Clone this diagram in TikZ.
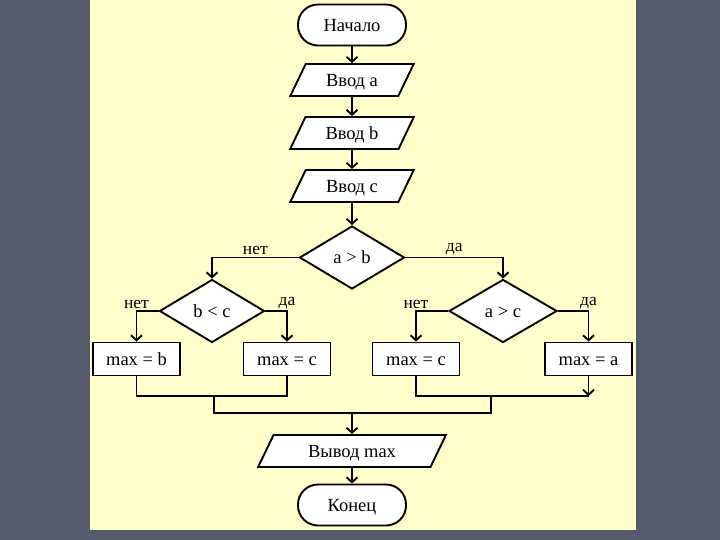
\documentclass[tikz,border=0pt]{standalone}
\usepackage{fontspec}
\setmainfont{Liberation Serif}
\usetikzlibrary{shapes.geometric,arrows.meta}
\definecolor{bgdark}{HTML}{555A6B}
\definecolor{panel}{HTML}{FFFFCC}
\begin{document}
\begin{tikzpicture}[x=1pt,y=-1pt,
  base/.style={draw=black, line width=1.9pt, fill=white, font=\fontsize{18.5}{22}\selectfont, inner sep=0pt, text height=15.5pt, text depth=3pt},
  term/.style={base, rectangle, rounded corners=20pt, minimum width=108pt, minimum height=41pt},
  io/.style={base, trapezium, trapezium stretches=true, trapezium left angle=65, trapezium right angle=115, minimum height=32pt},
  proc/.style={base, rectangle, minimum width=87pt, minimum height=33pt},
  dec/.style={base, diamond, minimum height=63pt},
  conn/.style={line width=1.9pt, draw=black},
  arr/.style={conn, -{Straight Barb[length=5pt,width=11pt,line width=1.9pt]}},
  lab/.style={font=\fontsize{17.5}{20}\selectfont, inner sep=1.5pt, anchor=south}
]
\useasboundingbox (0,0) rectangle (720,540);
\fill[bgdark] (0,0) rectangle (720,540);
\fill[panel] (90,0) rectangle (636,530);

\node[term] (start) at (352,25) {Начало};
\node[io, minimum width=124pt] (inA) at (352,80) {Ввод a};
\node[io, minimum width=124pt] (inB) at (352,133) {Ввод b};
\node[io, minimum width=124pt] (inC) at (352,186) {Ввод c};
\node[dec, minimum width=105pt] (d1) at (352,257.5) {a > b};
\node[dec, minimum width=105pt] (d2) at (212,311) {b < c};
\node[dec, minimum width=108pt] (d3) at (503,311) {a > c};
\node[proc] (p1) at (136.5,359) {max = b};
\node[proc] (p2) at (287,359) {max = c};
\node[proc] (p3) at (416,359) {max = c};
\node[proc] (p4) at (588.5,359) {max = a};
\node[io, minimum width=188pt] (out) at (352,451) {Вывод max};
\node[term] (end) at (352,505) {Конец};

\coordinate (m1) at (214,396);
\coordinate (m2) at (491,396);
\coordinate (m1b) at (214,413);
\coordinate (m2b) at (491,413);
\coordinate (mc) at (352,413);

\draw[arr] (start) -- (inA);
\draw[arr] (inA) -- (inB);
\draw[arr] (inB) -- (inC);
\draw[arr] (inC) -- (d1);
\draw[arr] (d1.west) -| node[lab, pos=0.25] (l1) {нет} (d2.north);
\draw[arr] (d1.east) -| node[lab, pos=0.25] (l2) {да} (d3.north);
\draw[arr] (d2.west) -| node[lab, pos=0.5] (l3) {нет} (p1.north);
\draw[arr] (d2.east) -| node[lab, pos=0.5] (l4) {да} (p2.north);
\draw[arr] (d3.west) -| node[lab, pos=0.5] (l5) {нет} (p3.north);
\draw[arr] (d3.east) -| node[lab, pos=0.5] (l6) {да} (p4.north);

\draw[conn] (p1.south) -- (p1.south |- m1) -- (p2.south |- m1) -- (p2.south);
\draw[conn] (p3.south) -- (p3.south |- m2) -- (p4.south |- m2);
\draw[arr] (p4.south) -- (p4.south |- m2);
\draw[conn] (m1) -- (m1b) -- (m2b) -- (m2);
\draw[arr] (mc) -- (out);
\draw[arr] (out) -- (end);
\end{tikzpicture}
\end{document}
